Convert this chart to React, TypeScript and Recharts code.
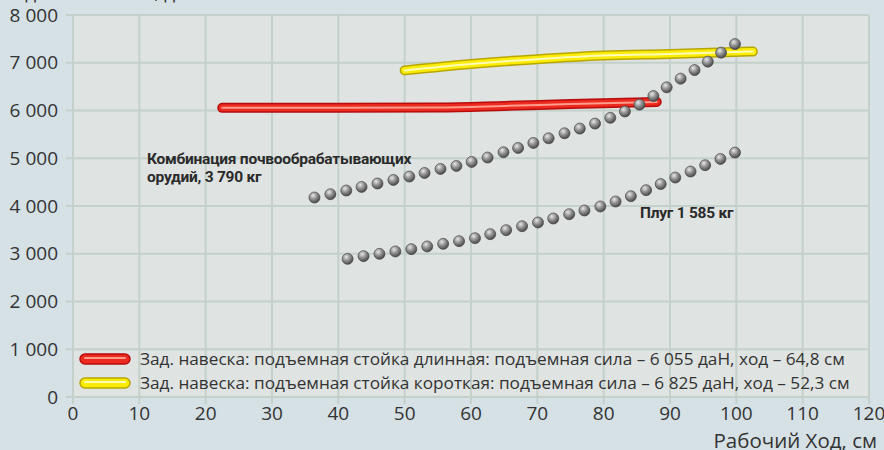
import React from 'react';
import { ComposedChart, Line, Scatter, XAxis, YAxis, CartesianGrid } from 'recharts';

const xTicks = [0, 10, 20, 30, 40, 50, 60, 70, 80, 90, 100, 110, 120];
const yTicks = [0, 1000, 2000, 3000, 4000, 5000, 6000, 7000, 8000];

const yTitle = 'Подъемная сила, даН';
const xTitle = 'Рабочий Ход, см';
const comboLabel = ['Комбинация почвообрабатывающих', 'орудий, 3 790 кг'];
const ploughLabel = 'Плуг 1 585 кг';
const legendLabels = [
  'Зад. навеска: подъемная стойка длинная: подъемная сила – 6 055 даН, ход – 64,8 см',
  'Зад. навеска: подъемная стойка короткая: подъемная сила – 6 825 даН, ход – 52,3 см',
];

// подъемная стойка длинная
const longStrut = [
  { x: 22.5, y: 6055 },
  { x: 40, y: 6055 },
  { x: 55, y: 6062 },
  { x: 65, y: 6095 },
  { x: 75, y: 6135 },
  { x: 88, y: 6180 },
];

// подъемная стойка короткая
const shortStrut = [
  { x: 50, y: 6840 },
  { x: 60, y: 6975 },
  { x: 70, y: 7075 },
  { x: 80, y: 7150 },
  { x: 90, y: 7185 },
  { x: 102.5, y: 7235 },
];

const comboPoints = [
  { x: 36.4, y: 4178 }, { x: 38.8, y: 4247 }, { x: 41.2, y: 4324 }, { x: 43.5, y: 4400 },
  { x: 45.9, y: 4471 }, { x: 48.3, y: 4546 }, { x: 50.7, y: 4617 }, { x: 53.0, y: 4692 },
  { x: 55.4, y: 4776 }, { x: 57.8, y: 4839 }, { x: 60.1, y: 4923 }, { x: 62.5, y: 5015 },
  { x: 64.9, y: 5126 }, { x: 67.1, y: 5215 }, { x: 69.4, y: 5320 }, { x: 71.7, y: 5418 },
  { x: 74.1, y: 5523 }, { x: 76.4, y: 5621 }, { x: 78.7, y: 5726 }, { x: 81.0, y: 5847 },
  { x: 83.2, y: 5979 }, { x: 85.4, y: 6123 }, { x: 87.5, y: 6303 }, { x: 89.5, y: 6485 },
  { x: 91.6, y: 6667 }, { x: 93.7, y: 6847 }, { x: 95.7, y: 7023 }, { x: 97.7, y: 7211 },
  { x: 99.8, y: 7391 },
];

const ploughPoints = [
  { x: 41.4, y: 2893 }, { x: 43.8, y: 2950 }, { x: 46.2, y: 2998 }, { x: 48.6, y: 3048 },
  { x: 51.0, y: 3096 }, { x: 53.4, y: 3153 }, { x: 55.8, y: 3207 }, { x: 58.2, y: 3264 },
  { x: 60.6, y: 3326 }, { x: 62.9, y: 3410 }, { x: 65.3, y: 3494 }, { x: 67.7, y: 3577 },
  { x: 70.1, y: 3655 }, { x: 72.4, y: 3738 }, { x: 74.8, y: 3828 }, { x: 77.1, y: 3906 },
  { x: 79.5, y: 3990 }, { x: 81.8, y: 4094 }, { x: 84.1, y: 4205 }, { x: 86.4, y: 4331 },
  { x: 88.6, y: 4460 }, { x: 90.8, y: 4596 }, { x: 93.1, y: 4722 }, { x: 95.3, y: 4854 },
  { x: 97.6, y: 4985 }, { x: 99.8, y: 5119 },
];

const GRID = '#c4d0ca';
const TEXT = '#333';

const fmt = (v: number) =>
  v >= 1000 ? `${Math.floor(v / 1000)} ${String(v % 1000).padStart(3, '0')}` : String(v);

const Ball = (props: any) => (
  <circle cx={props.cx} cy={props.cy} r={5.5} fill="url(#ball)" stroke="#484848" strokeWidth={0.7} />
);

// трубка: тёмный контур, основной цвет, блик
const tube = (data: any[], dark: string, main: string, light: string, key: string) => [
  <Line key={key + 'a'} data={data} dataKey="y" type="monotone" stroke={dark} strokeWidth={10}
    strokeLinecap="round" dot={false} activeDot={false} isAnimationActive={false} />,
  <Line key={key + 'b'} data={data} dataKey="y" type="monotone" stroke={main} strokeWidth={7}
    strokeLinecap="round" dot={false} activeDot={false} isAnimationActive={false} />,
  <Line key={key + 'c'} data={data} dataKey="y" type="monotone" stroke={light} strokeWidth={2}
    strokeLinecap="round" dot={false} activeDot={false} isAnimationActive={false} />,
];

const Pill = ({ dark, main, light }: { dark: string; main: string; light: string }) => (
  <svg width={52} height={12} style={{ display: 'block' }}>
    <rect x={1} y={1} width={50} height={10} rx={5} fill={main} stroke={dark} strokeWidth={1.5} />
    <line x1={6} y1={5} x2={46} y2={5} stroke={light} strokeWidth={2} strokeLinecap="round" />
  </svg>
);

export default function App() {
  return (
    <div
      style={{
        position: 'absolute', left: 0, top: 0, width: 884, height: 450,
        background: '#d5e1e5', fontFamily: '"Open Sans", sans-serif',
      }}
    >
      <ComposedChart width={884} height={450} margin={{ top: 15, right: 15, bottom: 3, left: 8 }}>
        <defs>
          <radialGradient id="ball" cx="38%" cy="32%" r="70%">
            <stop offset="0%" stopColor="#e8e8e8" />
            <stop offset="45%" stopColor="#969696" />
            <stop offset="100%" stopColor="#454545" />
          </radialGradient>
        </defs>
        <CartesianGrid fill="#dfe3e2" stroke={GRID} strokeWidth={2}
          horizontalValues={yTicks} verticalValues={xTicks} />
        <XAxis type="number" dataKey="x" domain={[0, 120]} ticks={xTicks} interval={0}
          height={50} axisLine={false} tickSize={7} tickMargin={3}
          tickLine={{ stroke: GRID, strokeWidth: 2 }}
          tick={{ fill: TEXT, fontSize: 19 }} />
        <YAxis type="number" domain={[0, 8000]} ticks={yTicks} interval={0} width={65}
          axisLine={false} tickSize={7} tickMargin={8} tickFormatter={fmt}
          tickLine={{ stroke: GRID, strokeWidth: 2 }}
          tick={{ fill: TEXT, fontSize: 19 }} />
        {tube(longStrut, '#b80d0d', '#ec2a1f', '#ff9c8c', 'long')}
        {tube(shortStrut, '#b8a600', '#fbec08', '#fffbb8', 'short')}
        <Scatter data={comboPoints} dataKey="y" shape={Ball} isAnimationActive={false} />
        <Scatter data={ploughPoints} dataKey="y" shape={Ball} isAnimationActive={false} />
        <text x={0} y={-1} fontSize={19} fill={TEXT}>{yTitle}</text>
        <text x={877} y={448} fontSize={20.5} fill={TEXT} textAnchor="end">{xTitle}</text>
        <text x={147} y={164} fontSize={15.5} fontWeight={700} fill="#2a2a2a"
          fontFamily="Roboto" letterSpacing={-0.25}>{comboLabel[0]}</text>
        <text x={147} y={182} fontSize={15.5} fontWeight={700} fill="#2a2a2a"
          fontFamily="Roboto" letterSpacing={-0.25}>{comboLabel[1]}</text>
        <text x={640} y={218} fontSize={15.5} fontWeight={700} fill="#2a2a2a"
          fontFamily="Roboto" letterSpacing={-0.25}>{ploughLabel}</text>
      </ComposedChart>
      <div style={{ position: 'absolute', left: 79, top: 347, fontSize: 17.2, color: TEXT, lineHeight: '24px' }}>
        <div style={{ display: 'flex', alignItems: 'center', whiteSpace: 'nowrap' }}>
          <Pill dark="#b80d0d" main="#ec2a1f" light="#ff9c8c" />
          <span style={{ marginLeft: 9 }}>{legendLabels[0]}</span>
        </div>
        <div style={{ display: 'flex', alignItems: 'center', whiteSpace: 'nowrap' }}>
          <Pill dark="#b8a600" main="#fbec08" light="#fffbb8" />
          <span style={{ marginLeft: 9 }}>{legendLabels[1]}</span>
        </div>
      </div>
    </div>
  );
}
